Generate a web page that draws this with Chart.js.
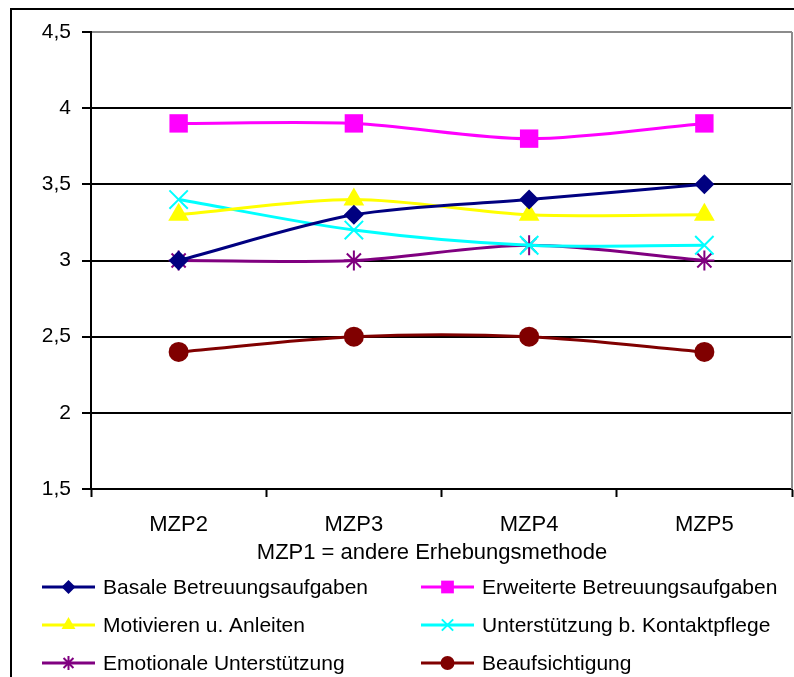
<!DOCTYPE html>
<html>
<head>
<meta charset="utf-8">
<script src="https://cdn.jsdelivr.net/npm/chart.js@4/dist/chart.umd.min.js"></script>
<style>
  html, body { margin: 0; padding: 0; background: #fff; }
  #wrap { position: relative; width: 794px; height: 677px; }
</style>
</head>
<body>
<div id="wrap"><canvas id="chartMzp" width="794" height="677"></canvas></div>
<script>
const categories = ['MZP2', 'MZP3', 'MZP4', 'MZP5'];
const xTitle = 'MZP1 = andere Erhebungsmethode';
const yTicks = [1.5, 2, 2.5, 3, 3.5, 4, 4.5];

const seriesNames = [
  'Basale Betreuungsaufgaben',
  'Erweiterte Betreuungsaufgaben',
  'Motivieren u. Anleiten',
  'Unterstützung b. Kontaktpflege',
  'Emotionale Unterstützung',
  'Beaufsichtigung',
];
const basale = [3.0, 3.3, 3.4, 3.5];
const erweiterte = [3.9, 3.9, 3.8, 3.9];
const motivieren = [3.3, 3.4, 3.3, 3.3];
const kontaktpflege = [3.4, 3.2, 3.1, 3.1];
const emotionale = [3.0, 3.0, 3.1, 3.0];
const beaufsichtigung = [2.4, 2.5, 2.5, 2.4];

const FONT = '"Liberation Sans", Arial, sans-serif';

// style per series: colour, marker, marker size
const styles = [
  { color: '#000080', point: 'rectRot', radius: 10, legendRadius: 7, border: 0 },
  { color: '#FF00FF', point: 'rect', radius: 13, legendRadius: 9, border: 0 },
  { color: '#FFFF00', point: 'triangle', radius: 12, legendRadius: 8, border: 0 },
  { color: '#00FFFF', point: 'crossRot', radius: 13, legendRadius: 8, border: 2 },
  { color: '#800080', point: 'star', radius: 10, legendRadius: 7, border: 2 },
  { color: '#800000', point: 'circle', radius: 10, legendRadius: 7, border: 0 },
];
const values = [basale, erweiterte, motivieren, kontaktpflege, emotionale, beaufsichtigung];

const datasets = seriesNames.map((name, index) => {
  const s = styles[index];
  return {
    label: name,
    data: values[index],
    borderColor: s.color,
    backgroundColor: s.color,
    borderWidth: 3,
    tension: 0.3,
    pointStyle: s.point,
    pointRadius: s.radius,
    pointHoverRadius: s.radius,
    pointBackgroundColor: s.color,
    pointBorderColor: s.color,
    pointBorderWidth: s.border,
    legendRadius: s.legendRadius,
  };
});

const fmt = (v) => String(v).replace('.', ',');

// frame, right border, axis title and the two-column legend
const decorPlugin = {
  id: 'decor',
  beforeDraw(chart) {
    const { ctx, width, height } = chart;
    ctx.save();
    ctx.fillStyle = '#fff';
    ctx.fillRect(0, 0, width, height);
    ctx.strokeStyle = '#000';
    ctx.lineWidth = 2;
    ctx.beginPath();
    ctx.moveTo(11, height);
    ctx.lineTo(11, 9);
    ctx.lineTo(width, 9);
    ctx.stroke();
    ctx.restore();
  },
  afterDraw(chart) {
    const { ctx, chartArea } = chart;
    ctx.save();
    ctx.strokeStyle = '#8c8c8c';
    ctx.lineWidth = 2;
    ctx.beginPath();
    ctx.moveTo(chartArea.right, chartArea.top);
    ctx.lineTo(chartArea.right, chartArea.bottom);
    ctx.stroke();

    ctx.fillStyle = '#000';
    ctx.font = `22px ${FONT}`;
    ctx.textAlign = 'center';
    ctx.textBaseline = 'middle';
    ctx.fillText(xTitle, 432, 553);
    ctx.fillStyle = '#fff';
    ctx.fillRect(13, 565, 781, 112);

    const cols = [42, 421];
    const rows = [587, 625, 663];
    chart.data.datasets.forEach((ds, i) => {
      const x = cols[i % 2];
      const y = rows[Math.floor(i / 2)];
      ctx.strokeStyle = ds.borderColor;
      ctx.lineWidth = 3;
      ctx.beginPath();
      ctx.moveTo(x, y);
      ctx.lineTo(x + 53, y);
      ctx.stroke();
      ctx.fillStyle = ds.pointBackgroundColor;
      ctx.strokeStyle = ds.pointBorderColor;
      ctx.lineWidth = ds.pointBorderWidth;
      Chart.helpers.drawPoint(ctx, {
        pointStyle: ds.pointStyle,
        radius: ds.legendRadius,
        borderWidth: ds.pointBorderWidth,
        rotation: 0,
      }, x + 26.5, y);
      ctx.fillStyle = '#000';
      ctx.font = `21px ${FONT}`;
      ctx.textAlign = 'left';
      ctx.fillText(ds.label, x + 61, y + 1);
    });
    ctx.restore();
  },
};

new Chart(document.getElementById('chartMzp').getContext('2d'), {
  type: 'line',
  data: { labels: categories, datasets },
  plugins: [decorPlugin],
  options: {
    responsive: false,
    animation: false,
    layout: { autoPadding: false, padding: { top: 32, right: 2, left: 0, bottom: 0 } },
    plugins: {
      legend: { display: false },
      tooltip: { enabled: false },
    },
    scales: {
      x: {
        offset: true,
        afterFit: (scale) => {
          scale.height = 188;
          scale.paddingLeft = 0;
          scale.paddingRight = 0;
        },
        grid: {
          offset: true,
          drawOnChartArea: false,
          drawTicks: true,
          tickLength: 8,
          tickColor: '#000',
          tickWidth: 2,
        },
        border: { display: true, color: '#000', width: 2 },
        ticks: {
          color: '#000',
          padding: 15,
          maxRotation: 0,
          font: { family: FONT, size: 22 },
        },
      },
      y: {
        min: yTicks[0],
        max: yTicks[yTicks.length - 1],
        afterFit: (scale) => { scale.width = 91; },
        afterBuildTicks: (scale) => { scale.ticks = yTicks.map((value) => ({ value })); },
        grid: {
          color: (c) => (c.tick && c.tick.value === 4.5 ? '#8c8c8c' : '#000'),
          lineWidth: 2,
          drawTicks: true,
          tickLength: 9,
          tickColor: '#000',
        },
        border: { display: true, color: '#000', width: 2 },
        ticks: {
          color: '#000',
          padding: 11,
          callback: (value) => fmt(value),
          font: { family: FONT, size: 21 },
        },
      },
    },
  },
});
</script>
</body>
</html>
